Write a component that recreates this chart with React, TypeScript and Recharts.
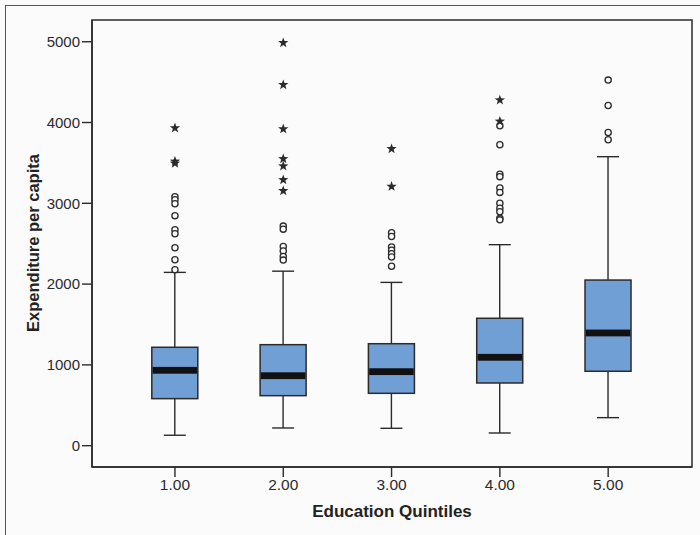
import { ComposedChart, Bar, Scatter, XAxis, YAxis, ReferenceArea } from 'recharts';

const quintiles = [1, 2, 3, 4, 5];
const whiskerLow = [129, 219, 215, 157, 347];
const boxQ1 = [582, 619, 648, 776, 921];
const medians = [933, 866, 916, 1094, 1395];
const boxQ3 = [1218, 1250, 1262, 1577, 2050];
const whiskerHigh = [2145, 2160, 2021, 2488, 3577];

const circleOutliers = [
  [3082, 3045, 2995, 2847, 2673, 2624, 2450, 2302, 2178],
  [2718, 2680, 2465, 2410, 2342, 2297],
  [2635, 2590, 2460, 2420, 2375, 2335, 2220],
  [3960, 3725, 3360, 3330, 3190, 3135, 3000, 2940, 2895, 2815, 2795],
  [4525, 4210, 3877, 3787],
];
const starOutliers = [
  [3932, 3520, 3495],
  [4987, 4467, 3920, 3550, 3460, 3290, 3155],
  [3675, 3208],
  [4278, 4014],
  [],
];

const yTicks = [0, 1000, 2000, 3000, 4000, 5000];

const boxData = quintiles.map((q, i) => ({
  x: q,
  range: [whiskerLow[i], whiskerHigh[i]],
  lo: whiskerLow[i],
  hi: whiskerHigh[i],
  q1: boxQ1[i],
  q3: boxQ3[i],
  med: medians[i],
}));

const circlePoints = quintiles.flatMap((q, i) => circleOutliers[i].map((v) => ({ x: q, y: v })));
const starPoints = quintiles.flatMap((q, i) => starOutliers[i].map((v) => ({ x: q, y: v })));

const INK = '#2b2b2b';
const FONT = '"Liberation Sans", Arial, sans-serif';

function BoxShape(props: any) {
  const { x, y, width, height, payload } = props;
  const top = Math.min(y, y + height);
  const h = Math.abs(height);
  const k = h / (payload.hi - payload.lo);
  const py = (v: number) => top + (payload.hi - v) * k;
  const cx = x + width / 2;
  const cap = 11;
  const yQ3 = py(payload.q3);
  const yQ1 = py(payload.q1);
  const yMed = py(payload.med);
  return (
    <g>
      <line x1={cx} x2={cx} y1={top} y2={top + h} stroke={INK} strokeWidth={1.4} />
      <line x1={cx - cap} x2={cx + cap} y1={top} y2={top} stroke={INK} strokeWidth={1.4} />
      <line x1={cx - cap} x2={cx + cap} y1={top + h} y2={top + h} stroke={INK} strokeWidth={1.4} />
      <rect x={x} y={yQ3} width={width} height={yQ1 - yQ3} fill="#6f9fd5" stroke={INK} strokeWidth={1.5} />
      <rect x={x + 0.75} y={yMed - 3.4} width={width - 1.5} height={6.8} fill="#111" />
    </g>
  );
}

function CircleShape(props: any) {
  return <circle cx={props.cx} cy={props.cy} r={3.1} fill="#fbfbfb" stroke={INK} strokeWidth={1.3} />;
}

function StarShape(props: any) {
  const { cx, cy } = props;
  const outer = 5.4;
  const inner = 2.2;
  const pts: string[] = [];
  for (let i = 0; i < 10; i++) {
    const r = i % 2 === 0 ? outer : inner;
    const a = (Math.PI / 5) * i - Math.PI / 2;
    pts.push(`${cx + r * Math.cos(a)},${cy + r * Math.sin(a)}`);
  }
  return <polygon points={pts.join(' ')} fill={INK} />;
}

export default function App() {
  return (
    <div
      style={{
        position: 'absolute',
        left: 0,
        top: 0,
        width: 700,
        height: 535,
        background: '#fbfbfb',
        overflow: 'hidden',
      }}
    >
      <div
        style={{
          position: 'absolute',
          left: 5,
          top: 5,
          width: 720,
          height: 560,
          borderTop: '1.5px solid #555',
          borderLeft: '1.5px solid #555',
        }}
      />
      <ComposedChart
        width={700}
        height={535}
        data={boxData}
        margin={{ top: 20, right: 8, bottom: 20, left: 0 }}
        style={{ position: 'absolute', left: 0, top: 0 }}
      >
        <XAxis
          type="number"
          dataKey="x"
          domain={[0.234, 5.774]}
          ticks={quintiles}
          tickFormatter={(v: number) => v.toFixed(2)}
          allowDataOverflow
          height={48}
          tickSize={10}
          axisLine={{ stroke: INK, strokeWidth: 1.5 }}
          tickLine={{ stroke: INK, strokeWidth: 1.4 }}
          tick={{ fill: INK, fontSize: 15.5, fontFamily: FONT }}
          label={{
            value: 'Education Quintiles',
            position: 'insideBottom',
            offset: -2,
            fill: '#222',
            fontSize: 17,
            fontWeight: 'bold',
            fontFamily: FONT,
          }}
        />
        <YAxis
          type="number"
          domain={[-264, 5269]}
          ticks={yTicks}
          allowDataOverflow
          width={92}
          tickSize={10}
          axisLine={{ stroke: INK, strokeWidth: 1.5 }}
          tickLine={{ stroke: INK, strokeWidth: 1.4 }}
          tick={{ fill: INK, fontSize: 15, fontFamily: FONT }}
          label={({ viewBox }: any) => {
            const lx = viewBox.x + 33;
            const ly = 243;
            return (
              <text
                x={lx}
                y={ly}
                transform={`rotate(-90 ${lx} ${ly})`}
                textAnchor="middle"
                dominantBaseline="central"
                style={{ fill: '#222' }}
                fontSize={16.5}
                fontWeight="bold"
                fontFamily={FONT}
              >
                Expenditure per capita
              </text>
            );
          }}
        />
        <ReferenceArea
          x1={0.234}
          x2={5.774}
          y1={-264}
          y2={5269}
          fill="none"
          fillOpacity={0}
          stroke={INK}
          strokeWidth={1.5}
          ifOverflow="visible"
        />
        <Bar dataKey="range" barSize={46} shape={<BoxShape />} isAnimationActive={false} />
        <Scatter data={circlePoints} dataKey="y" shape={<CircleShape />} isAnimationActive={false} />
        <Scatter data={starPoints} dataKey="y" shape={<StarShape />} isAnimationActive={false} />
      </ComposedChart>
    </div>
  );
}
